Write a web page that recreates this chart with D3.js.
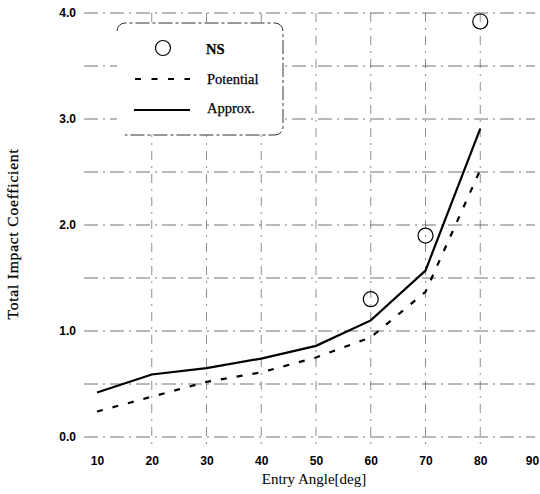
<!DOCTYPE html>
<html>
<head>
<meta charset="utf-8">
<script src="https://cdn.jsdelivr.net/npm/d3@7"></script>
<style>
  html, body { margin: 0; padding: 0; background: #fff; }
  svg { display: block; }
</style>
</head>
<body>
<svg id="chart" width="540" height="494"></svg>
<script>
// Entry angle (deg) and impact coefficients
const angles = [10, 20, 30, 40, 50, 60, 70, 80];
const approx = [0.42, 0.59, 0.65, 0.74, 0.86, 1.10, 1.57, 2.91];
const potential = [0.24, 0.38, 0.52, 0.61, 0.75, 0.94, 1.37, 2.52];
const nsAngles = [60, 70, 80];
const nsValues = [1.30, 1.90, 3.92];

const xTicks = [10, 20, 30, 40, 50, 60, 70, 80, 90];
const yTicks = [0, 1, 2, 3, 4];
const yGrid = [0, 0.5, 1, 1.5, 2, 2.5, 3, 3.5, 4];
const xGrid = [20, 30, 40, 50, 60, 70, 80];

const svg = d3.select("#chart");
const x = d3.scaleLinear().domain([10, 90]).range([97, 535]);
const y = d3.scaleLinear().domain([0, 4]).range([437, 13]);

const gridStyle = g => g
  .attr("stroke", "#444")
  .attr("stroke-width", 1)
  .attr("stroke-dasharray", "14,5,2,5")
  .attr("opacity", 0.75);

// horizontal grid
svg.append("g").selectAll("line").data(yGrid).join("line")
  .attr("x1", 84).attr("x2", 535)
  .attr("y1", d => y(d)).attr("y2", d => y(d))
  .call(gridStyle);

// vertical grid
svg.append("g").selectAll("line").data(xGrid).join("line")
  .attr("x1", d => x(d)).attr("x2", d => x(d))
  .attr("y1", y(4)).attr("y2", 448)
  .call(gridStyle)
  .attr("stroke-dasharray", "9,6,2,6")
  .attr("opacity", 0.6);

// y tick labels
const yAxis = d3.axisLeft(y).tickValues(yTicks).tickFormat(d3.format(".1f")).tickSize(0).tickPadding(0);
svg.append("g").attr("transform", "translate(76,0)").call(yAxis)
  .call(g => g.select(".domain").remove())
  .call(g => g.selectAll("text")
    .attr("font-family", "'Liberation Sans', Arial, sans-serif")
    .attr("font-weight", "bold").attr("font-size", 12).attr("fill", "#000"));

// x tick labels (last one kept inside the canvas edge)
const xAxis = d3.axisBottom(x).tickValues(xTicks).tickFormat(d3.format("d")).tickSize(0).tickPadding(0);
svg.append("g").attr("transform", "translate(0,456)").call(xAxis)
  .call(g => g.select(".domain").remove())
  .call(g => g.selectAll("text")
    .attr("font-family", "'Liberation Sans', Arial, sans-serif")
    .attr("font-weight", "bold").attr("font-size", 12).attr("fill", "#000"))
  .call(g => g.selectAll("text").filter(d => d === 90).attr("dx", -3));

// axis titles
svg.append("text")
  .attr("x", 314).attr("y", 484)
  .attr("text-anchor", "middle")
  .attr("font-family", "'Liberation Serif', 'Times New Roman', serif")
  .attr("font-size", 15).attr("fill", "#000")
  .text("Entry Angle[deg]");

svg.append("text")
  .attr("transform", "translate(18,234) rotate(-90)")
  .attr("text-anchor", "middle")
  .attr("font-family", "'Liberation Serif', 'Times New Roman', serif")
  .attr("font-size", 15.5).attr("letter-spacing", 0.8).attr("fill", "#000")
  .attr("stroke", "#000").attr("stroke-width", 0.25)
  .text("Total Impact Coefficient");

// series lines
const line = d3.line().x(d => x(d[0])).y(d => y(d[1]));

svg.append("path")
  .datum(d3.zip(angles, potential))
  .attr("d", line)
  .attr("fill", "none").attr("stroke", "#000")
  .attr("stroke-width", 2.2).attr("stroke-dasharray", "6,10");

svg.append("path")
  .datum(d3.zip(angles, approx))
  .attr("d", line)
  .attr("fill", "none").attr("stroke", "#000")
  .attr("stroke-width", 2.2);

// NS points
svg.append("g").selectAll("circle").data(d3.zip(nsAngles, nsValues)).join("circle")
  .attr("cx", d => x(d[0])).attr("cy", d => y(d[1])).attr("r", 7.5)
  .attr("fill", "none").attr("stroke", "#000").attr("stroke-width", 1.2);

// legend
const lg = svg.append("g");
lg.append("rect")
  .attr("x", 117).attr("y", 23).attr("width", 166).attr("height", 112).attr("rx", 9)
  .attr("fill", "#fff");
lg.append("path")
  .attr("d", "M117,31 A8,8 0 0 1 125,23 L275,23 A8,8 0 0 1 283,31 L283,127 A8,8 0 0 1 275,135 L125,135")
  .attr("fill", "none").attr("stroke", "#333").attr("stroke-width", 1)
  .attr("stroke-dasharray", "14,3,3,3");

const legendFont = g => g
  .attr("font-family", "'Liberation Serif', 'Times New Roman', serif")
  .attr("font-size", 14.5).attr("fill", "#000")
  .attr("stroke", "#000").attr("stroke-width", 0.25);

lg.append("circle").attr("cx", 163).attr("cy", 48).attr("r", 7.5)
  .attr("fill", "none").attr("stroke", "#000").attr("stroke-width", 1.2);
lg.append("text").attr("x", 206).attr("y", 54).attr("font-weight", "bold").call(legendFont).text("NS");

lg.append("line").attr("x1", 135).attr("x2", 190).attr("y1", 79).attr("y2", 79)
  .attr("stroke", "#000").attr("stroke-width", 2.2).attr("stroke-dasharray", "6,10.5");
lg.append("text").attr("x", 207).attr("y", 84).call(legendFont).text("Potential");

lg.append("line").attr("x1", 134).attr("x2", 190).attr("y1", 110).attr("y2", 110)
  .attr("stroke", "#000").attr("stroke-width", 2.2);
lg.append("text").attr("x", 207).attr("y", 113).call(legendFont).text("Approx.");
</script>
</body>
</html>
